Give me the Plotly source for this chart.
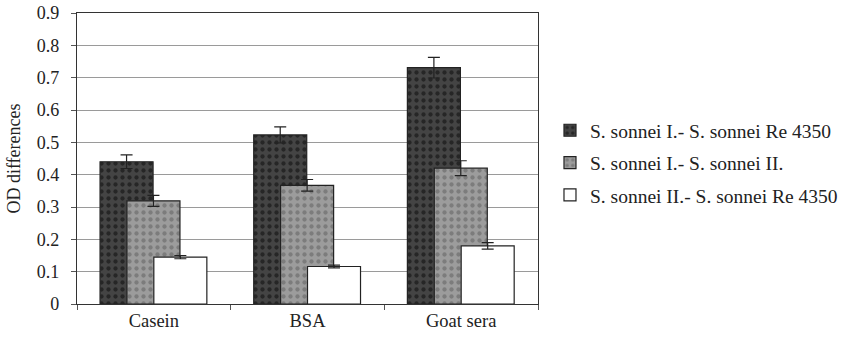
import plotly.graph_objects as go

categories = ["Casein", "BSA", "Goat sera"]
series_names = [
    "S. sonnei I.- S. sonnei Re 4350",
    "S. sonnei I.- S. sonnei II.",
    "S. sonnei II.- S. sonnei Re 4350",
]
vals_1 = [0.44, 0.523, 0.731]
err_1 = [0.021, 0.025, 0.032]
vals_2 = [0.319, 0.367, 0.42]
err_2 = [0.017, 0.018, 0.023]
vals_3 = [0.145, 0.116, 0.18]
err_3 = [0.005, 0.004, 0.01]
y_ticks = [0, 0.1, 0.2, 0.3, 0.4, 0.5, 0.6, 0.7, 0.8, 0.9]
y_labels = ["0", "0.1", "0.2", "0.3", "0.4", "0.5", "0.6", "0.7", "0.8", "0.9"]

FONT = "Liberation Serif"
styles = [
    dict(color="#444444", fg="#262626", offset=-0.35),
    dict(color="#9c9c9c", fg="#7c7c7c", offset=-0.175),
    dict(color="#ffffff", fg="#ffffff", offset=0.0),
]

fig = go.Figure()
for name, vals, errs, st in zip(series_names, [vals_1, vals_2, vals_3],
                                [err_1, err_2, err_3], styles):
    fig.add_trace(go.Bar(
        x=categories, y=vals, name=name,
        width=0.345, offset=st["offset"],
        legendgroup=name,
        marker=dict(color=st["color"],
                    line=dict(color="#222222", width=1.2),
                    pattern=dict(shape=".", fgcolor=st["fg"], bgcolor=st["color"],
                                 size=7, solidity=0.3, fillmode="replace")),
        error_y=dict(type="data", array=errs, visible=True, color="#222222",
                     thickness=1.2, width=6),
    ))

fig.update_layout(
    width=852, height=346,
    barmode="overlay",
    margin=dict(l=77, r=314, t=13, b=42, autoexpand=False),
    paper_bgcolor="white", plot_bgcolor="white",
    font=dict(family=FONT, size=18, color="#222222"),
    showlegend=True,
    legend=dict(x=1.026, y=0.663, xanchor="left", yanchor="top",
                font=dict(family=FONT, size=19.5, color="#222222"),
                tracegroupgap=4, traceorder="grouped", itemwidth=30,
                bgcolor="rgba(0,0,0,0)"),
    xaxis=dict(type="category", showline=True, linecolor="#333333", linewidth=1.2,
               mirror=True, ticks="outside", tickson="boundaries", ticklen=5,
               tickcolor="#555555", tickfont=dict(family=FONT, size=18.5),
               range=[-0.5, 2.5], showgrid=False, automargin=False),
    yaxis=dict(range=[0, 0.9], tickvals=y_ticks, ticktext=y_labels,
               showline=True, linecolor="#333333", linewidth=1.2, mirror=True,
               showgrid=True, gridcolor="#9a9a9a", gridwidth=1,
               ticks="outside", ticklen=5, tickcolor="#555555",
               ticklabelstandoff=8,
               tickfont=dict(family=FONT, size=18), automargin=False,
               title=dict(text="OD differences", font=dict(family=FONT, size=18),
                          standoff=11)),
)

# remove the page's default 8px body margin so the figure sits at (0, 0)
fig.write_html("out.html", config={"displayModeBar": False},
               post_script="document.body.style.margin='0';document.body.style.padding='0';")
